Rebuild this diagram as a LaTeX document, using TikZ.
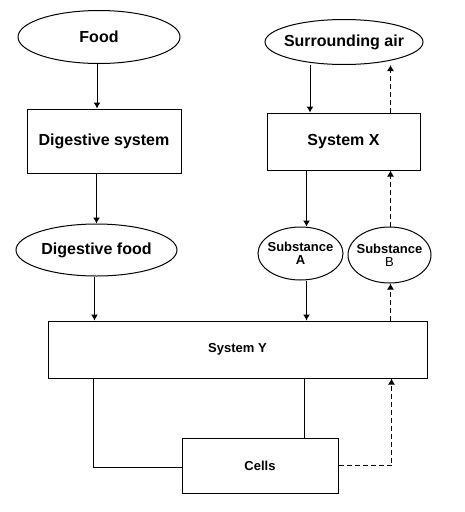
\documentclass[tikz,border=0pt]{standalone}
\usepackage{fontspec}
\setmainfont{Liberation Sans}
\usetikzlibrary{arrows.meta,shapes.geometric}
\newcommand{\grosstxt}{\fontsize{16}{19}\selectfont\bfseries}
\newcommand{\kleintxt}{\fontsize{13}{13}\selectfont\bfseries}
\newcommand{\nb}[1]{\makebox[0pt]{#1}}
\tikzset{
  oval/.style={ellipse,draw,line width=1pt,inner sep=0pt,font=\grosstxt},
  kasten/.style={rectangle,draw,line width=1pt,inner sep=0pt,font=\grosstxt},
  pf/.style={-{Latex[length=6pt,width=7pt]},line width=1pt},
  pfs/.style={pf,dash pattern=on 5pt off 3pt},
  lin/.style={line width=1pt},
}
\begin{document}
\begin{tikzpicture}[x=1pt,y=-1pt]
  \useasboundingbox (0,0) rectangle (464,512);
  \node[oval,minimum width=162pt,minimum height=53pt] (food) at (99,37) {\nb{Food}};
  \node[kasten,minimum width=154pt,minimum height=64pt] (dsys) at (104,141) {Digestive system};
  \node[oval,minimum width=161pt,minimum height=52pt] (dfood) at (96.5,250) {\nb{Digestive food}};
  \node[oval,minimum width=158pt,minimum height=45pt] (air) at (344,42) {\nb{Surrounding air}};
  \node[kasten,minimum width=153pt,minimum height=57pt] (sysx) at (343.5,141.5) {System X};
  \node[oval,minimum width=85pt,minimum height=53pt,font=\kleintxt,align=center] (suba) at (300.5,253.5) {\nb{Substance}\\\nb{A}};
  \node[oval,minimum width=83pt,minimum height=56pt,font=\kleintxt,align=center] (subb) at (389.5,255) {\nb{Substance}\\\nb{\mdseries B}};
  \node[kasten,minimum width=379pt,minimum height=57pt,font=\kleintxt] (sysy) at (237.5,349.5) {System Y};
  \node[kasten,minimum width=156pt,minimum height=55pt,font=\kleintxt] (cells) at (260,465.5) {Cells};
  \draw[pf] ([xshift=-2pt]food.south) -- ([xshift=-2pt]food.south |- dsys.north);
  \draw[pf] (dfood |- dsys.south) -- (dfood);
  \draw[pf] ([xshift=-2pt]dfood.south) -- ([xshift=-2pt]dfood.south |- sysy.north);
  \draw[pf] ([xshift=-34pt]air.south) -- ([xshift=-34pt]air.south |- sysx.north);
  \draw[pf] ([xshift=6pt]suba.north |- sysx.south) -- ([xshift=6pt]suba.north);
  \draw[pf] ([xshift=6pt]suba.south) -- ([xshift=6pt]suba.south |- sysy.north);
  \draw[pfs] ([xshift=1pt]subb.south |- sysy.north) -- ([xshift=1pt]subb.south);
  \draw[pfs] ([xshift=1pt]subb.north) -- ([xshift=1pt]subb.north |- sysx.south);
  \draw[pfs] ([xshift=47pt]sysx.north) -- ([xshift=47pt]sysx.north |- air.south);
  \draw[lin] ([xshift=-144pt]sysy.south) |- ([yshift=-2pt]cells.west);
  \draw[lin] ([xshift=44pt]cells.north) -- ([xshift=44pt]cells.north |- sysy.south);
  \draw[pfs] (cells.east) -| ([xshift=2pt]subb.south |- sysy.south);
\end{tikzpicture}
\end{document}
